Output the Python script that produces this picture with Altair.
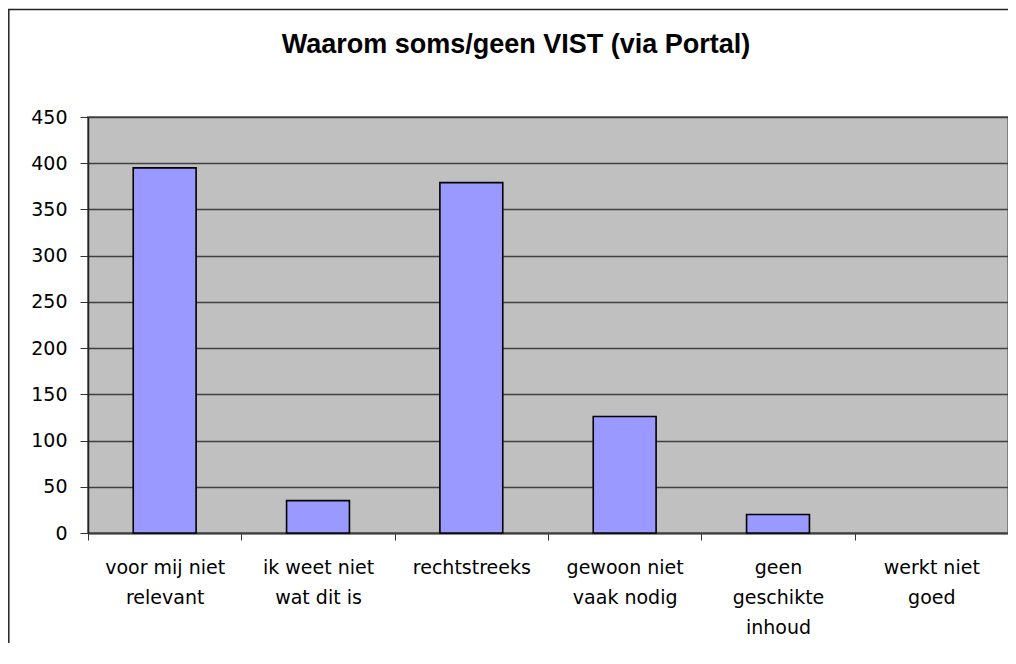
import altair as alt
import pandas as pd

TITLE = "Waarom soms/geen VIST (via Portal)"
categories = [
    "voor mij niet\nrelevant",
    "ik weet niet\nwat dit is",
    "rechtstreeks",
    "gewoon niet\nvaak nodig",
    "geen\ngeschikte\ninhoud",
    "werkt niet\ngoed",
]
values = [395, 35, 379, 126, 20, 0]
y_ticks = [0, 50, 100, 150, 200, 250, 300, 350, 400, 450]

df = pd.DataFrame({"cat": categories, "val": values})

bars = alt.Chart(df).mark_bar(
    width=alt.RelativeBandSize(0.41),
    fill="#9999FF",
    stroke="#000000",
    strokeWidth=1.6,
).encode(
    x=alt.X(
        "cat:N",
        sort=categories,
        scale=alt.Scale(paddingInner=0, paddingOuter=0),
        axis=alt.Axis(
            title=None,
            labelAngle=0,
            labelExpr="split(datum.label, '\\n')",
            labelFont="DejaVu Sans",
            labelFontSize=19,
            labelColor="#000000",
            labelLineHeight=30,
            labelPadding=18,
            tickBand="extent",
            tickSize=7,
            tickColor="#333333",
            domainColor="#404040",
            domainWidth=2,
            grid=False,
        ),
    ),
    y=alt.Y(
        "val:Q",
        scale=alt.Scale(domain=[0, 450], nice=False),
        axis=alt.Axis(
            title=None,
            values=y_ticks,
            labelFont="DejaVu Sans",
            labelFontSize=19,
            labelColor="#000000",
            labelPadding=13,
            tickSize=8,
            tickColor="#333333",
            domainColor="#222222",
            domainWidth=1.5,
            grid=True,
            gridColor="#404040",
            gridWidth=1.3,
        ),
    ),
    strokeOpacity=alt.condition("datum.val > 0", alt.value(1), alt.value(0)),
)

title = alt.Chart(pd.DataFrame({"t": [TITLE]})).mark_text(
    font="Liberation Sans",
    fontSize=27,
    fontWeight="bold",
    align="center",
    baseline="alphabetic",
    color="#000000",
).encode(x=alt.value(428), y=alt.value(-64), text="t:N")

border = alt.Chart(pd.DataFrame({"b": [1]})).mark_rect(
    fillOpacity=0,
    stroke="#222222",
    strokeWidth=1.5,
).encode(
    x=alt.value(-79.2),
    x2=alt.value(960),
    y=alt.value(-107.5),
    y2=alt.value(560),
)

chart = alt.layer(border, bars, title).properties(
    width=920,
    height=416,
    autosize=alt.AutoSizeParams(type="none"),
    padding={"left": 80, "top": 109, "right": 0, "bottom": 110},
    background="#FFFFFF",
).configure_view(
    fill="#C0C0C0",
    stroke="#808080",
    strokeWidth=2,
)

chart.save("out.html", embed_options={"renderer": "svg", "actions": False})
